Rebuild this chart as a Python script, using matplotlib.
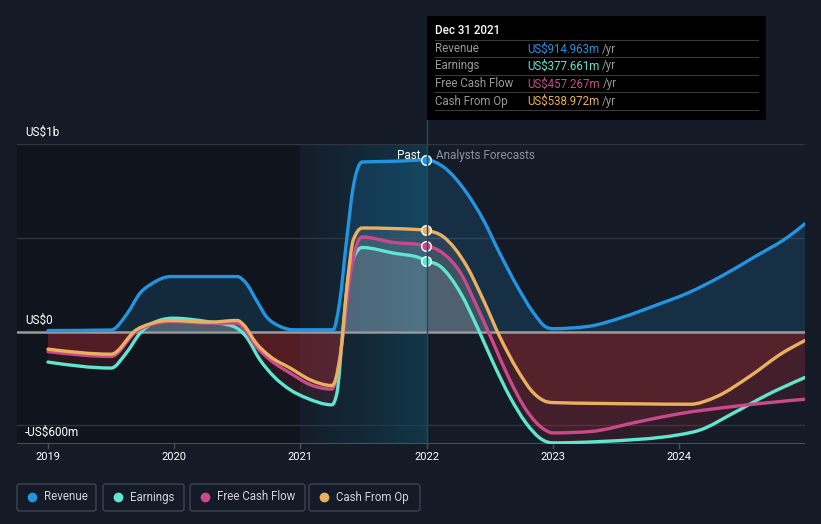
import numpy as np
import matplotlib.pyplot as plt
from matplotlib.patches import Rectangle, FancyBboxPatch, PathPatch
from matplotlib.path import Path
from matplotlib.lines import Line2D
from matplotlib.colors import LinearSegmentedColormap

plt.rcParams['font.family'] = ['Roboto', 'DejaVu Sans']

# Data (US$ millions)
rev_x = [2019.0, 2019.5, 2019.63, 2019.73, 2019.83, 2019.97, 2020.5, 2020.57, 2020.65, 2020.73,
         2020.84, 2020.95, 2021.26, 2021.31, 2021.37, 2021.42, 2021.49, 2021.75, 2022.0,
         2022.13, 2022.32, 2022.45, 2022.58, 2022.72, 2022.85, 2022.95, 2023.0, 2023.28,
         2023.55, 2023.81, 2024.07, 2024.34, 2024.6, 2024.86, 2025.0]
rev_y = [5, 8, 98, 205, 258, 293, 293, 258, 169, 80,
         27, 9, 9, 151, 507, 774, 904, 908, 915,
         880, 738, 596, 418, 240, 98, 23, 15, 27,
         75, 138, 205, 296, 398, 502, 575]

earn_x = [2019.0, 2019.5, 2019.62, 2019.73, 2019.83, 2019.99, 2020.26, 2020.47, 2020.57, 2020.68,
          2020.79, 2020.92, 2021.05, 2021.25, 2021.29, 2021.34, 2021.39, 2021.49, 2021.74, 2021.95,
          2022.0, 2022.11, 2022.27, 2022.4, 2022.53, 2022.66, 2022.79, 2022.92, 2023.0, 2023.37,
          2024.0, 2024.17, 2024.43, 2024.7, 2025.0]
earn_y = [-163, -195, -115, -9, 45, 71, 53, 27, -27, -151,
          -240, -311, -355, -391, -329, 27, 329, 448, 418, 392,
          378, 347, 205, 27, -169, -347, -489, -578, -594, -587,
          -551, -525, -436, -338, -245]

fcf_x = [2019.0, 2019.5, 2019.7, 2019.81, 2019.97, 2020.28, 2020.5, 2020.55, 2020.65, 2020.76,
         2020.92, 2021.08, 2021.25, 2021.34, 2021.39, 2021.49, 2021.74, 2021.95, 2022.0,
         2022.13, 2022.27, 2022.4, 2022.53, 2022.66, 2022.79, 2022.92, 2023.0, 2023.29,
         2023.69, 2024.0, 2024.43, 2025.0]
fcf_y = [-107, -133, 0, 36, 53, 45, 45, 18, -80, -151,
         -222, -284, -307, -9, 276, 504, 475, 463, 457,
         418, 312, 133, -62, -258, -418, -516, -541, -534,
         -480, -439, -400, -361]

cfo_x = [2019.0, 2019.5, 2019.7, 2019.81, 2019.97, 2020.28, 2020.5, 2020.55, 2020.65, 2020.76,
         2020.92, 2021.08, 2021.25, 2021.32, 2021.37, 2021.42, 2021.49, 2021.95, 2022.0,
         2022.13, 2022.32, 2022.45, 2022.58, 2022.72, 2022.85, 2022.95, 2023.0, 2023.69,
         2024.09, 2024.3, 2024.56, 2024.82, 2025.0]
cfo_y = [-94, -121, 9, 41, 59, 50, 59, 36, -62, -133,
         -195, -258, -288, -115, 240, 489, 552, 543, 539,
         507, 347, 169, -27, -204, -329, -374, -379, -386,
         -388, -347, -240, -115, -48]

names = ['Revenue', 'Earnings', 'Free Cash Flow', 'Cash From Op']
colors = ['#2394df', '#5ee6d0', '#c94a8c', '#e9b15f']
last_vals = ['US$914.963m', 'US$377.661m', 'US$457.267m', 'US$538.972m']
years = [2019, 2020, 2021, 2022, 2023, 2024]

W, H = 821, 524
bg = '#151b26'
fig = plt.figure(figsize=(W / 100, H / 100), dpi=100, facecolor=bg)


def fx(p):
    return p / W


def fy(p):
    return 1 - p / H


def smooth_path(xs, ys):
    # monotone cubic bezier through the data points (like d3 curveMonotoneX)
    x = np.asarray(xs, float)
    y = np.asarray(ys, float)
    n = len(x)
    h = np.diff(x)
    s = np.diff(y) / h
    m = np.zeros(n)
    for k in range(1, n - 1):
        p = (s[k - 1] * h[k] + s[k] * h[k - 1]) / (h[k - 1] + h[k])
        m[k] = (np.sign(s[k - 1]) + np.sign(s[k])) * min(abs(s[k - 1]), abs(s[k]), 0.5 * abs(p))
    m[0] = (3 * s[0] - m[1]) / 2 if n > 2 else s[0]
    m[-1] = (3 * s[-1] - m[-2]) / 2 if n > 2 else s[-1]
    verts = [(x[0], y[0])]
    codes = [Path.MOVETO]
    for k in range(n - 1):
        d = h[k] / 3
        verts += [(x[k] + d, y[k] + m[k] * d), (x[k + 1] - d, y[k + 1] - m[k + 1] * d), (x[k + 1], y[k + 1])]
        codes += [Path.CURVE4] * 3
    return verts, codes


ax = fig.add_axes([fx(17), fy(444), fx(805) - fx(17), fy(144) - fy(444)])
ax.set_facecolor(bg)
x0 = 2019 - 31 / 126.2
ax.set_xlim(x0, 2025.0)
ax.set_ylim(-600, 1000)
for sp in ax.spines.values():
    sp.set_visible(False)
ax.set_xticks([])
ax.set_yticks([])

# past region shading
ax.axvspan(x0, 2021, color='black', alpha=0.22, lw=0, zorder=0)
grad = LinearSegmentedColormap.from_list('g', [(0.05, 0.3, 0.4, 0.05), (0.05, 0.35, 0.45, 0.45)])
ax.imshow(np.linspace(0, 1, 100).reshape(1, -1), cmap=grad, aspect='auto',
          extent=[2021, 2022, -600, 1000], zorder=0.5)

# gridlines
for g in [1000, 500, -500]:
    ax.axhline(g, color='#2f3540', lw=1, zorder=1)
ax.axhline(-600, color='#4a505a', lw=1.5, zorder=1)

series = [(rev_x, rev_y), (earn_x, earn_y), (fcf_x, fcf_y), (cfo_x, cfo_y)]
upper = Rectangle((x0 - 1, 0), 10, 2000, transform=ax.transData)
lower = Rectangle((x0 - 1, -2000), 10, 2000, transform=ax.transData)
for i, (xs, ys) in enumerate(series):
    verts, codes = smooth_path(xs, ys)
    # closed area down to zero
    av = verts + [(xs[-1], 0), (xs[0], 0), verts[0]]
    ac = codes + [Path.LINETO, Path.LINETO, Path.CLOSEPOLY]
    pos_col = colors[0] if i == 0 else 'white'
    pos_a = 0.17 if i == 0 else 0.09
    pp = PathPatch(Path(av, ac), facecolor=pos_col, alpha=pos_a, lw=0, zorder=2)
    ax.add_patch(pp)
    pp.set_clip_path(upper)
    pn = PathPatch(Path(av, ac), facecolor='#e0303a', alpha=0.12, lw=0, zorder=2)
    ax.add_patch(pn)
    pn.set_clip_path(lower)

ax.axhline(0, color='#9a9a9a', lw=1.8, zorder=3)

for i, (xs, ys) in enumerate(series):
    verts, codes = smooth_path(xs, ys)
    ax.add_patch(PathPatch(Path(verts, codes), facecolor='none', edgecolor=colors[i], lw=2.4,
                           capstyle='round', joinstyle='round', zorder=4))
    ax.plot([2022.0], [ys[xs.index(2022.0)]], 'o', ms=7, mfc=colors[i], mec='white', mew=1.0, zorder=6)

# vertical line at the last reported point
fig.add_artist(Line2D([fx(427), fx(427)], [fy(444), fy(120)], color='#1f4c5c', lw=1, zorder=1))

# y labels
for lab, yy in [('US$1b', 132), ('US$0', 320), ('-US$600m', 432)]:
    fig.text(fx(25), fy(yy), lab, color='white', fontsize=8.5, va='center', ha='left')

# x tick labels
for yr in years:
    xp = 48 + (yr - 2019) * 126.2
    fig.text(fx(xp), fy(457), str(yr), color='white', fontsize=8, ha='center', va='center')
    fig.add_artist(Line2D([fx(xp), fx(xp)], [fy(444), fy(448)], color='#4a505a', lw=1))

fig.text(fx(420), fy(156), 'Past', color='white', fontsize=8.5, ha='right', va='center')
fig.text(fx(436), fy(156), 'Analysts Forecasts', color='#8c9099', fontsize=8.5, ha='left', va='center')

# tooltip
fig.add_artist(Rectangle((fx(427), fy(120)), fx(766) - fx(427), fy(16) - fy(120),
                         transform=fig.transFigure, facecolor='black', edgecolor='none', zorder=10))
fig.text(fx(435), fy(31), 'Dec 31 2021', color='white', fontsize=8.3, fontweight='medium',
         ha='left', va='center', zorder=11)
row_y = [49, 66, 84, 101]
for sep in [40, 57, 75, 92, 110]:
    fig.add_artist(Line2D([fx(435), fx(758)], [fy(sep), fy(sep)], color='#3a3a3a', lw=0.8, zorder=11))
renderer = fig.canvas.get_renderer()
for k in range(4):
    fig.text(fx(435), fy(row_y[k]), names[k], color='#9a9a9a', fontsize=8.3, ha='left', va='center', zorder=11)
    t = fig.text(fx(527), fy(row_y[k]), last_vals[k], color=colors[k], fontsize=8.3, ha='left', va='center', zorder=11)
    x_end = t.get_window_extent(renderer).x1
    fig.text(x_end / W + fx(3), fy(row_y[k]), '/yr', color='#9a9a9a', fontsize=8.3, ha='left', va='center', zorder=11)

# legend
boxes = [(17, 96), (103, 184), (190, 305), (309, 420)]
for k, (a, b) in enumerate(boxes):
    fig.add_artist(FancyBboxPatch((fx(a), fy(511)), fx(b) - fx(a), fy(484) - fy(511),
                                  boxstyle='round,pad=0,rounding_size=0.004', transform=fig.transFigure,
                                  facecolor='none', edgecolor='#3c4250', lw=1))
    fig.add_artist(Line2D([fx(a + 15)], [fy(497)], marker='o', ms=6, color=colors[k], lw=0))
    fig.text(fx(a + 27), fy(497), names[k], color='#d0d2d6', fontsize=8.3, ha='left', va='center')

fig.savefig('out.png', dpi=100, facecolor=bg)
